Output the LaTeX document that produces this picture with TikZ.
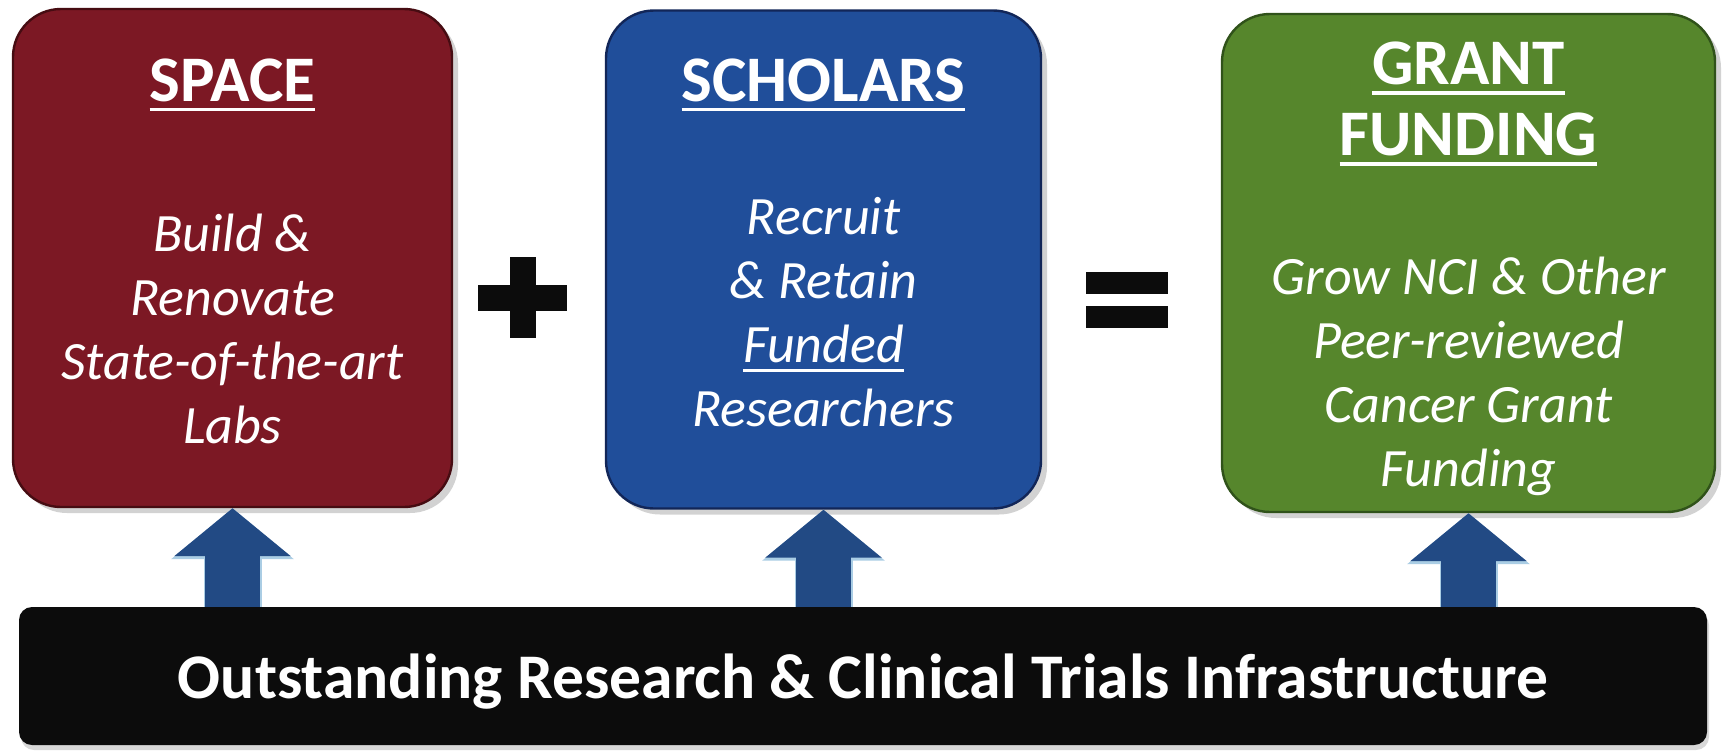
\documentclass[tikz,border=0pt]{standalone}
\usepackage{fontspec}
\setmainfont{Carlito}
\usetikzlibrary{shadows,arrows.meta}

\definecolor{spacered}{RGB}{124,24,36}
\definecolor{spaceedge}{RGB}{70,12,18}
\definecolor{scholarblue}{RGB}{32,78,154}
\definecolor{scholaredge}{RGB}{18,38,88}
\definecolor{grantgreen}{RGB}{86,134,44}
\definecolor{grantedge}{RGB}{48,82,26}
\definecolor{arrowblue}{RGB}{34,74,132}
\definecolor{arrowedge}{RGB}{170,205,228}
\definecolor{barblack}{RGB}{12,12,12}

% white underline with a heavier rule than \underline gives
\newcommand{\undl}[1]{\setbox0=\hbox{#1}\rlap{\rule[-5pt]{\wd0}{1.9pt}}\box0}

\tikzset{
  card/.style={rounded corners=24pt, minimum width=#1, minimum height=249pt,
    line width=1.2pt, drop shadow={shadow xshift=3pt, shadow yshift=-3pt, opacity=0.35, fill=gray}},
  head/.style={text=white, align=center, font=\fontsize{32.5}{35.5}\selectfont\bfseries},
  body/.style={text=white, align=center, font=\fontsize{27}{32}\selectfont\itshape},
  uparrow/.style={draw=arrowblue, line width=27.5pt, -{Triangle[width=57pt,length=24pt]},
    preaction={draw=arrowedge, line width=29pt, -{Triangle[width=60pt,length=25.5pt]}}}
}

\begin{document}
\begin{tikzpicture}[x=0.5pt, y=-0.5pt]
\fill[white] (0,0) rectangle (1722,755);
\useasboundingbox (0,0) rectangle (1722,755);

% the three boxes
\node[card=219.5pt, fill=spacered, draw=spaceedge] (space) at (232.5,258) {};
\node[head] (spaceT) at (232.5,85) {\undl{SPACE}};
\node[body] (spaceB) at (232.5,329) {Build \&\\Renovate\\State-of-the-art\\Labs};

\node[card=217.5pt, fill=scholarblue, draw=scholaredge] (scholars) at (823.5,259.5) {};
\node[head] (scholarsT) at (823.5,85) {\undl{SCHOLARS}};
\node[body] (scholarsB) at (823.5,312) {Recruit\\\& Retain\\\undl{Funded}\\Researchers};

\node[card=246.5pt, fill=grantgreen, draw=grantedge] (grant) at (1468.5,263) {};
\node[head] (grantT) at (1468.5,104) {\undl{GRANT}\\\undl{FUNDING}};
\node[body] (grantB) at (1468.5,376) {Grow NCI \& Other\\Peer-reviewed\\Cancer Grant\\Funding};

% plus and equals
\fill[barblack] (478,285) rectangle (567,311);
\fill[barblack] (510,257) rectangle (536,338);
\fill[barblack] (1086,272) rectangle (1168,294);
\fill[barblack] (1086,306) rectangle (1168,328);

% base bar
\node[fill=barblack, rounded corners=6.5pt, minimum width=844pt, minimum height=69pt,
  text depth=0pt, drop shadow={shadow xshift=1pt, shadow yshift=-2.5pt, opacity=0.3, fill=gray},
  text=white, font=\fontsize{31.8}{36}\selectfont\bfseries] (bar) at (863,676)
  {Outstanding Research \& Clinical Trials Infrastructure};

\draw[uparrow] (bar.north -| space.south) -- (space.south);
\draw[uparrow] (bar.north -| scholars.south) -- (scholars.south);
\draw[uparrow] (bar.north -| grant.south) -- (grant.south);
\end{tikzpicture}
\end{document}
